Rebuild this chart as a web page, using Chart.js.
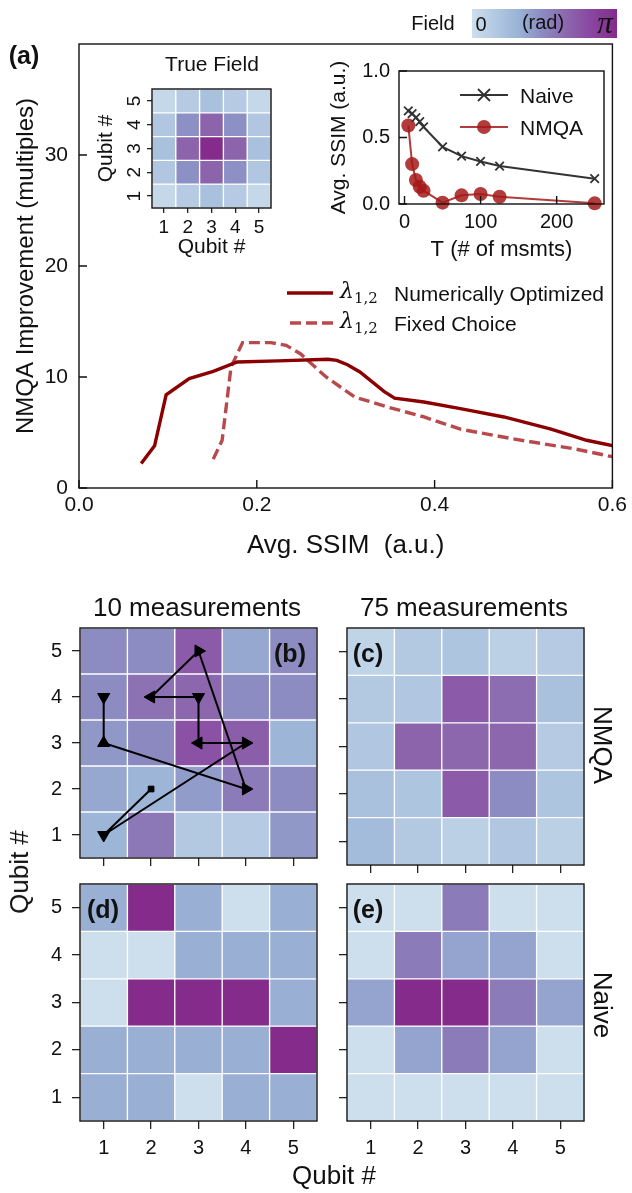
<!DOCTYPE html>
<html>
<head>
<meta charset="utf-8">
<script src="https://cdn.jsdelivr.net/npm/chart.js@4.4.1/dist/chart.umd.min.js"></script>
<style>
  body { margin: 0; background: #fff; }
  #fig { position: relative; width: 632px; height: 1193px; font-family: "Liberation Sans", Arial, sans-serif; color: #111; }
  canvas { position: absolute; }
  .lbl { position: absolute; transform: translate(-50%, -50%); white-space: nowrap; line-height: 1; }
  .lft { position: absolute; transform: translate(0, -50%); white-space: nowrap; line-height: 1; }
  .bold { font-weight: bold; font-size: 25px; }
  .lam { font-family: "DejaVu Serif", "Liberation Serif", serif; font-style: italic; font-size: 22px; }
  .lam sub { font-style: normal; font-size: 15px; }
</style>
</head>
<body>
<div id="fig">
  <canvas id="main" width="632" height="570" style="left:0;top:0"></canvas>
  <canvas id="truefield" width="210" height="225" style="left:80px;top:40px"></canvas>
  <canvas id="ssim" width="300" height="215" style="left:320px;top:50px"></canvas>
  <canvas id="hb" width="330" height="290" style="left:0;top:590px"></canvas>
  <canvas id="hc" width="300" height="290" style="left:330px;top:590px"></canvas>
  <canvas id="hd" width="330" height="333" style="left:0;top:860px"></canvas>
  <canvas id="he" width="300" height="333" style="left:330px;top:860px"></canvas>

  <div class="lbl bold" style="left:24px;top:55px">(a)</div>
  <div class="lbl" style="left:433px;top:23px;font-size:20px">Field</div>
  <div id="cbar" style="position:absolute;left:472px;top:9px;width:145px;height:29px"></div>
  <div class="lbl" style="left:481px;top:24px;font-size:20px">0</div>
  <div class="lbl" style="left:543px;top:22px;font-size:20px">(rad)</div>
  <div class="lbl" style="left:605px;top:22px;font-size:31px;font-family:'Liberation Serif',serif;font-style:italic">π</div>

  <svg style="position:absolute;left:285px;top:280px" width="50" height="56">
    <line x1="2" y1="13" x2="48" y2="13" stroke="#8b0000" stroke-width="3.5"/>
    <line x1="5" y1="43" x2="48" y2="43" stroke="#b84a4d" stroke-width="3.5" stroke-dasharray="11,5"/>
  </svg>
  <div class="lft lam" style="left:340px;top:293px">λ<sub>1,2</sub></div>
  <div class="lft" style="left:394px;top:293px;font-size:21px">Numerically Optimized</div>
  <div class="lft lam" style="left:340px;top:323px">λ<sub>1,2</sub></div>
  <div class="lft" style="left:394px;top:323px;font-size:21px">Fixed Choice</div>

  <div class="lbl" style="left:212px;top:63px;font-size:21px">True Field</div>

  <svg style="position:absolute;left:458px;top:82px" width="52" height="58">
    <line x1="2" y1="13" x2="50" y2="13" stroke="#333" stroke-width="2"/>
    <path d="M20 7 L32 19 M32 7 L20 19" stroke="#333" stroke-width="1.8"/>
    <line x1="2" y1="45" x2="50" y2="45" stroke="rgba(165,25,25,0.85)" stroke-width="2"/>
    <circle cx="26" cy="45" r="7" fill="rgba(165,25,25,0.85)"/>
  </svg>
  <div class="lft" style="left:520px;top:95px;font-size:21px">Naive</div>
  <div class="lft" style="left:520px;top:127px;font-size:21px">NMQA</div>

  <div class="lbl" style="left:197px;top:607px;font-size:26px">10 measurements</div>
  <div class="lbl" style="left:464px;top:607px;font-size:26px">75 measurements</div>
  <div class="lbl bold" style="left:290px;top:653px">(b)</div>
  <div class="lbl bold" style="left:368px;top:653px">(c)</div>
  <div class="lbl bold" style="left:103px;top:909px">(d)</div>
  <div class="lbl bold" style="left:368px;top:909px">(e)</div>
  <div class="lbl" style="left:603px;top:745px;font-size:26px;transform:translate(-50%,-50%) rotate(90deg)">NMQA</div>
  <div class="lbl" style="left:603px;top:1005px;font-size:26px;transform:translate(-50%,-50%) rotate(90deg)">Naive</div>
  <div class="lbl" style="left:334px;top:1175px;font-size:26px">Qubit #</div>
  <div class="lbl" style="left:19px;top:872px;font-size:26px;transform:translate(-50%,-50%) rotate(-90deg)">Qubit #</div>
</div>

<script>
// (a) improvement vs SSIM
let ssimOpt = [0.070, 0.085, 0.098, 0.124, 0.151, 0.178, 0.224, 0.280, 0.290, 0.302, 0.316, 0.343, 0.355, 0.388, 0.429, 0.478, 0.531, 0.571, 0.601]
let gainOpt = [2.2, 3.8, 8.4, 9.85, 10.5, 11.35, 11.45, 11.6, 11.5, 11.1, 10.45, 8.7, 8.1, 7.75, 7.15, 6.4, 5.3, 4.3, 3.8]
let ssimFixed = [0.151, 0.161, 0.171, 0.184, 0.216, 0.233, 0.249, 0.278, 0.310, 0.347, 0.388, 0.429, 0.490, 0.559, 0.601]
let gainFixed = [2.6, 4.3, 10.9, 13.1, 13.1, 12.85, 12.1, 10.0, 8.2, 7.3, 6.4, 5.3, 4.4, 3.5, 2.8]
let xTicksMain = [0, 0.2, 0.4, 0.6]
let yTicksMain = [0, 10, 20, 30]

// inset: SSIM vs number of measurements
let nMsmts = [5, 10, 15, 20, 25, 50, 75, 100, 125, 250]
let ssimNaive = [0.70, 0.68, 0.65, 0.62, 0.58, 0.43, 0.36, 0.32, 0.285, 0.19]
let ssimNmqa = [0.59, 0.30, 0.18, 0.13, 0.10, 0.01, 0.065, 0.075, 0.055, 0.005]
let xTicksInset = [0, 100, 200]
let yTicksInset = [0, 0.5, 1.0]

// fields in rad, rows listed from qubit 5 (top) down to qubit 1
let qubits = ['1', '2', '3', '4', '5']
let rowLabels = [5, 4, 3, 2, 1]
let qubitTicks = [1, 2, 3, 4, 5]
let trueField = [
  [0.15, 0.45, 0.7, 0.45, 0.15],
  [0.55, 1.45, 2.1, 1.45, 0.55],
  [0.7, 2.1, 3.14, 2.1, 0.7],
  [0.55, 1.45, 2.1, 1.45, 0.55],
  [0.15, 0.45, 0.7, 0.45, 0.15],
]
let nmqa10 = [
  [1.5, 1.5, 2.25, 1.15, 1.5],
  [1.5, 1.9, 2.05, 1.5, 1.5],
  [1.35, 1.55, 2.4, 2.2, 0.95],
  [1.15, 0.95, 1.3, 1.75, 1.5],
  [0.95, 1.8, 0.5, 0.45, 1.35],
]
let nmqa75 = [
  [0.25, 0.5, 0.6, 0.35, 0.45],
  [0.5, 0.55, 2.25, 1.95, 0.7],
  [0.55, 2.1, 2.05, 2.05, 0.45],
  [0.7, 0.6, 2.25, 1.5, 0.6],
  [0.8, 0.5, 0.35, 0.55, 0.35],
]
let naive10 = [
  [1.05, 3.14, 1.05, 0, 1.05],
  [0, 0, 1.05, 1.05, 1.05],
  [0, 3.14, 3.14, 3.14, 1.05],
  [1.05, 1.05, 1.05, 1.05, 3.14],
  [1.05, 1.05, 0, 1.05, 1.05],
]
let naive75 = [
  [0, 0, 1.75, 0, 0],
  [0, 1.75, 1.2, 1.2, 0],
  [1.2, 3.14, 3.14, 1.75, 1.2],
  [0, 1.2, 1.75, 1.2, 0],
  [0, 0, 0, 0, 0],
]
// NMQA measurement path for 10 measurements
let pathX = ['1', '1', '4', '3', '2', '3', '3', '4', '1', '2']
let pathY = [4, 3, 2, 5, 4, 4, 3, 3, 1, 2]
let pathMarker = ['triangle', 'triangle', 'triangle', 'triangle', 'triangle', 'triangle', 'triangle', 'triangle', 'triangle', 'rect']
let pathRot = [180, 0, 90, 90, 270, 180, 270, 90, 180, 0]

// colour map (rad -> colour)
let cmapStops = [[0, '#cddeed'], [0.5, '#b3c9e2'], [1.0, '#9ab4d6'], [1.5, '#8c8cc2'], [2.0, '#8c6aaf'], [2.5, '#8a4ba2'], [Math.PI, '#842b8b']]

function hex(c) { return [1, 3, 5].map(i => parseInt(c.slice(i, i + 2), 16)) }
function cmap(v) {
  for (let i = 1; i < cmapStops.length; i++) {
    let [v1, c1] = cmapStops[i]
    let [v0, c0] = cmapStops[i - 1]
    if (v <= v1 || i == cmapStops.length - 1) {
      let t = Math.max(0, Math.min(1, (v - v0) / (v1 - v0)))
      let a = hex(c0), b = hex(c1)
      return 'rgb(' + a.map((x, k) => Math.round(x + (b[k] - x) * t)).join(',') + ')'
    }
  }
}
document.getElementById('cbar').style.background =
  'linear-gradient(to right,' + cmapStops.map(s => s[1] + ' ' + (s[0] / Math.PI * 100).toFixed(1) + '%').join(',') + ')'

Chart.defaults.font.family = '"Liberation Sans", Arial, sans-serif'
Chart.defaults.color = '#111'
Chart.defaults.animation = false
Chart.defaults.responsive = false
Chart.defaults.events = []
Chart.defaults.plugins.legend.display = false
Chart.defaults.plugins.tooltip.enabled = false

// black box round the plot area, optional inward ticks
let frame = {
  id: 'frame',
  afterDraw(chart, args, opts) {
    let { ctx, chartArea: a } = chart
    ctx.save()
    ctx.strokeStyle = '#111'
    ctx.lineWidth = 1.4
    ctx.strokeRect(a.left, a.top, a.right - a.left, a.bottom - a.top)
    if (opts.inTicks) {
      ctx.beginPath()
      chart.scales.x.ticks.forEach(t => {
        let px = chart.scales.x.getPixelForValue(t.value)
        ctx.moveTo(px, a.bottom); ctx.lineTo(px, a.bottom - 8)
      })
      chart.scales.y.ticks.forEach(t => {
        let py = chart.scales.y.getPixelForValue(t.value)
        ctx.moveTo(a.left, py); ctx.lineTo(a.left + 8, py)
      })
      ctx.stroke()
    }
    ctx.restore()
  }
}

function fixedTicks(list) { return s => { s.ticks = list.map(v => ({ value: v })) } }

new Chart(document.getElementById('main'), {
  type: 'line',
  data: {
    datasets: [
      { data: ssimOpt.map((x, i) => ({ x: x, y: gainOpt[i] })), borderColor: '#8b0000', borderWidth: 3.4, pointRadius: 0 },
      { data: ssimFixed.map((x, i) => ({ x: x, y: gainFixed[i] })), borderColor: '#b84a4d', borderWidth: 3.4, borderDash: [11, 5], pointRadius: 0 },
    ]
  },
  plugins: [frame],
  options: {
    layout: { padding: { top: 44, right: 16 } },
    plugins: { frame: { inTicks: true } },
    scales: {
      x: {
        type: 'linear', min: 0, max: 0.6,
        afterBuildTicks: fixedTicks(xTicksMain),
        afterFit: s => { s.height = 82 },
        grid: { display: false, drawTicks: false }, border: { display: false },
        ticks: { padding: 5, font: { size: 21 }, callback: v => v.toFixed(1) },
        title: { display: true, text: 'Avg. SSIM  (a.u.)', font: { size: 26 }, padding: { top: 0, bottom: 9 } }
      },
      y: {
        min: 0, max: 40,
        afterBuildTicks: fixedTicks(yTicksMain),
        afterFit: s => { s.width = 79 },
        grid: { display: false, drawTicks: false }, border: { display: false },
        ticks: { padding: 11, font: { size: 21 } },
        title: { display: true, text: 'NMQA Improvement (multiples)', font: { size: 24 }, padding: { top: 12, bottom: 0 } }
      }
    }
  }
})

new Chart(document.getElementById('ssim'), {
  type: 'line',
  data: {
    datasets: [
      { data: nMsmts.map((t, i) => ({ x: t, y: ssimNaive[i] })), borderColor: '#333', borderWidth: 2,
        pointStyle: 'crossRot', pointRadius: 6, pointBorderWidth: 1.8, pointBorderColor: '#333', clip: false },
      { data: nMsmts.map((t, i) => ({ x: t, y: ssimNmqa[i] })), borderColor: 'rgba(165,25,25,0.85)', borderWidth: 2,
        pointStyle: 'circle', pointRadius: 7, pointBorderWidth: 0, pointBackgroundColor: 'rgba(165,25,25,0.85)', clip: false },
    ]
  },
  plugins: [frame],
  options: {
    layout: { padding: { top: 18, right: 16 } },
    plugins: { frame: { inTicks: true } },
    scales: {
      x: {
        type: 'linear', min: -7.25, max: 262.25,
        afterBuildTicks: fixedTicks(xTicksInset),
        afterFit: s => { s.height = 61 },
        grid: { display: false, drawTicks: false }, border: { display: false },
        ticks: { padding: 6, font: { size: 20 } },
        title: { display: true, text: 'T (# of msmts)', font: { size: 22 }, padding: { top: 0, bottom: 2 } }
      },
      y: {
        min: 0, max: 1,
        afterBuildTicks: fixedTicks(yTicksInset),
        afterFit: s => { s.width = 79 },
        grid: { display: false, drawTicks: false }, border: { display: false },
        ticks: { padding: 9, font: { size: 20 }, callback: v => v.toFixed(1) },
        title: { display: true, text: 'Avg. SSIM (a.u.)', font: { size: 21 }, padding: { top: 7, bottom: 0 } }
      }
    }
  }
})

function heatmap(id, field, o) {
  let datasets = rowLabels.map((r, i) => ({
    data: field[i].map(() => [r - 0.5, r + 0.5]),
    backgroundColor: field[i].map(cmap),
    borderColor: '#fff', borderWidth: 1, borderSkipped: false,
    grouped: false, barPercentage: 1, categoryPercentage: 1
  }))
  if (o.path) datasets.unshift(o.path)
  let tickGrid = { display: true, drawOnChartArea: false, drawTicks: true, tickLength: o.tl, color: '#222', lineWidth: 1.3, offset: false }
  return new Chart(document.getElementById(id), {
    type: 'bar',
    data: { labels: qubits, datasets: datasets },
    plugins: [frame],
    options: {
      layout: { padding: o.pad },
      scales: {
        x: {
          type: 'category', offset: true,
          afterFit: s => { s.height = o.xh },
          grid: tickGrid, border: { display: false },
          ticks: { display: o.xLabels, padding: o.xpad, font: { size: o.fs } },
          title: o.xTitle ? { display: true, text: o.xTitle, font: { size: 21 }, padding: { top: 0, bottom: 5 } } : { display: false }
        },
        y: {
          type: 'linear', min: 0.5, max: 5.5,
          afterBuildTicks: fixedTicks(qubitTicks),
          afterFit: s => { s.width = o.yw },
          grid: tickGrid, border: { display: false },
          ticks: Object.assign({ display: o.yLabels, padding: o.ypad, font: { size: o.fs } }, o.yRot || {}),
          title: o.yTitle ? { display: true, text: o.yTitle, font: { size: 21 }, padding: { top: 14, bottom: 0 } } : { display: false }
        }
      }
    }
  })
}

heatmap('truefield', trueField, {
  pad: { top: 49, right: 19 }, xh: 57, yw: 72, tl: 5, fs: 19,
  xLabels: true, yLabels: true, xpad: 3, ypad: 7,
  yRot: { minRotation: 90, maxRotation: 90, crossAlign: 'center' },
  xTitle: 'Qubit #', yTitle: 'Qubit #'
})

heatmap('hb', nmqa10, {
  pad: { top: 38, right: 13 }, xh: 15, yw: 80, tl: 8, fs: 20,
  xLabels: false, yLabels: true, xpad: 7, ypad: 10,
  path: {
    type: 'line',
    data: pathX.map((x, i) => ({ x: x, y: pathY[i] })),
    borderColor: '#000', borderWidth: 2,
    pointStyle: pathMarker, pointRotation: pathRot,
    pointRadius: pathMarker.map(m => m == 'rect' ? 4 : 7),
    pointBackgroundColor: '#000', pointBorderColor: '#000', pointBorderWidth: 1
  }
})
heatmap('hc', nmqa75, {
  pad: { top: 38, right: 46 }, xh: 15, yw: 17, tl: 8, fs: 20,
  xLabels: false, yLabels: false, xpad: 7, ypad: 10
})
heatmap('hd', naive10, {
  pad: { top: 24, right: 13 }, xh: 72, yw: 80, tl: 8, fs: 20,
  xLabels: true, yLabels: true, xpad: 7, ypad: 10
})
heatmap('he', naive75, {
  pad: { top: 24, right: 46 }, xh: 72, yw: 17, tl: 8, fs: 20,
  xLabels: true, yLabels: false, xpad: 7, ypad: 10
})
</script>
</body>
</html>
